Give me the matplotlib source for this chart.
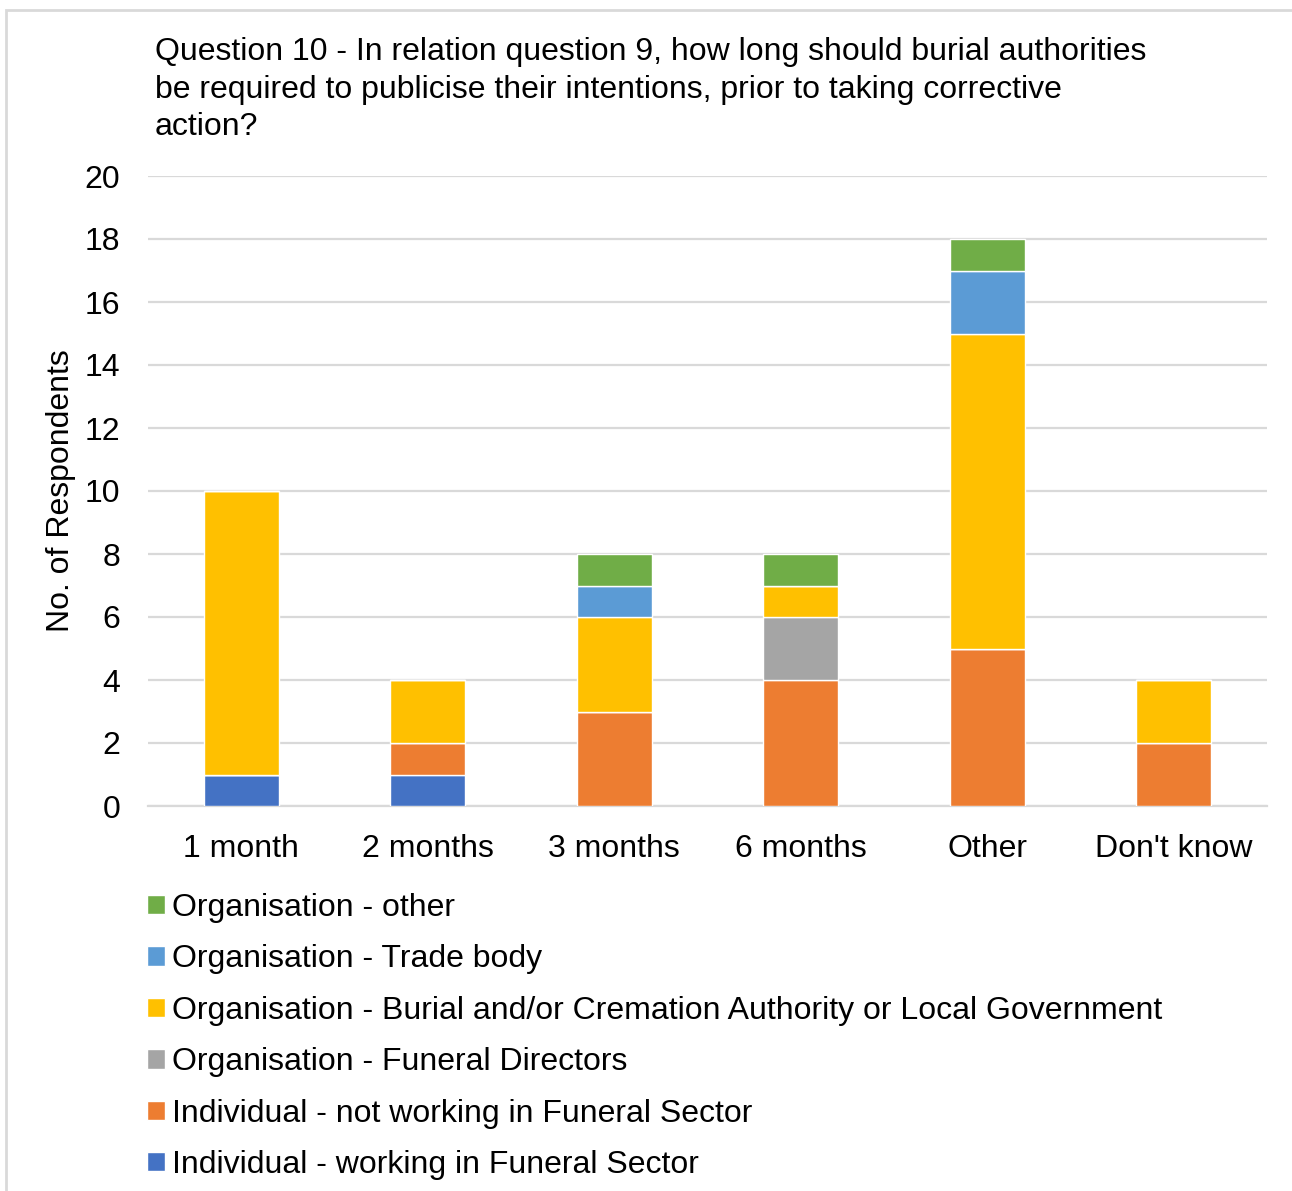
import matplotlib
matplotlib.use("Agg")
from matplotlib import pyplot as plt
from matplotlib.patches import Rectangle, Patch
import numpy as np

plt.rcParams['font.family'] = ['Liberation Sans', 'DejaVu Sans']

categories = ['1 month', '2 months', '3 months', '6 months', 'Other', "Don't know"]

# stack order, bottom to top
series_names = [
    'Individual - working in Funeral Sector',
    'Individual - not working in Funeral Sector',
    'Organisation - Funeral Directors',
    'Organisation - Burial and/or Cremation Authority or Local Government',
    'Organisation - Trade body',
    'Organisation - other',
]
ind_working = [1, 1, 0, 0, 0, 0]
ind_not_working = [0, 1, 3, 4, 5, 2]
org_funeral = [0, 0, 0, 2, 0, 0]
org_burial = [9, 2, 3, 1, 10, 2]
org_trade = [0, 0, 1, 0, 2, 0]
org_other = [0, 0, 1, 1, 1, 0]

colors = ['#4472C4', '#ED7D31', '#A5A5A5', '#FFC000', '#5B9BD5', '#70AD47']
fs = 23

fig = plt.figure(figsize=(12.92, 11.91), dpi=100)
ax = fig.add_axes([148/1292, 1 - 806/1191, (1267 - 148)/1292, (806 - 176)/1191])

x = np.arange(len(categories))
bottom = np.zeros(len(categories))
for name, vals, col in zip(series_names,
                           [ind_working, ind_not_working, org_funeral, org_burial, org_trade, org_other],
                           colors):
    ax.bar(x, vals, width=0.4, bottom=bottom, color=col, edgecolor='white', linewidth=1, zorder=3)
    bottom += np.array(vals)

ax.set_xlim(-0.5, len(categories) - 0.5)
ax.set_ylim(0, 20)
ax.set_yticks(range(0, 21, 2))
ax.set_xticks(x)
ax.set_xticklabels(categories)
ax.tick_params(axis='both', length=0, labelsize=fs, colors='black')
ax.tick_params(axis='y', pad=20)
ax.tick_params(axis='x', pad=20)
ax.grid(axis='y', color='#D9D9D9', linewidth=1.6, zorder=0)
for s in ['top', 'right', 'left']:
    ax.spines[s].set_visible(False)
ax.spines['bottom'].set_color('#D9D9D9')
ax.spines['bottom'].set_linewidth(1.6)
ax.set_ylabel('No. of Respondents', fontsize=fs, labelpad=6)

fig.text(155/1292, 1 - 37/1191,
         'Question 10 - In relation question 9, how long should burial authorities\n'
         'be required to publicise their intentions, prior to taking corrective\n'
         'action?', fontsize=fs, va='top', ha='left', linespacing=1.33)

handles = [Patch(facecolor=c, edgecolor='white') for c in colors][::-1]
fig.legend(handles, series_names[::-1], loc='upper left',
           bbox_to_anchor=(147/1292, 1 - 893/1191), frameon=False,
           fontsize=fs, handlelength=0.55, handleheight=0.55,
           handletextpad=0.22, labelspacing=0.67, borderaxespad=0, borderpad=0)

# outer chart frame
fig.patches.append(Rectangle((6/1292, -0.05), 1.2, 1 - 10/1191 + 0.05,
                             transform=fig.transFigure, fill=False,
                             edgecolor='#D9D9D9', linewidth=2))

fig.savefig('out.png', dpi=100, facecolor='white')
